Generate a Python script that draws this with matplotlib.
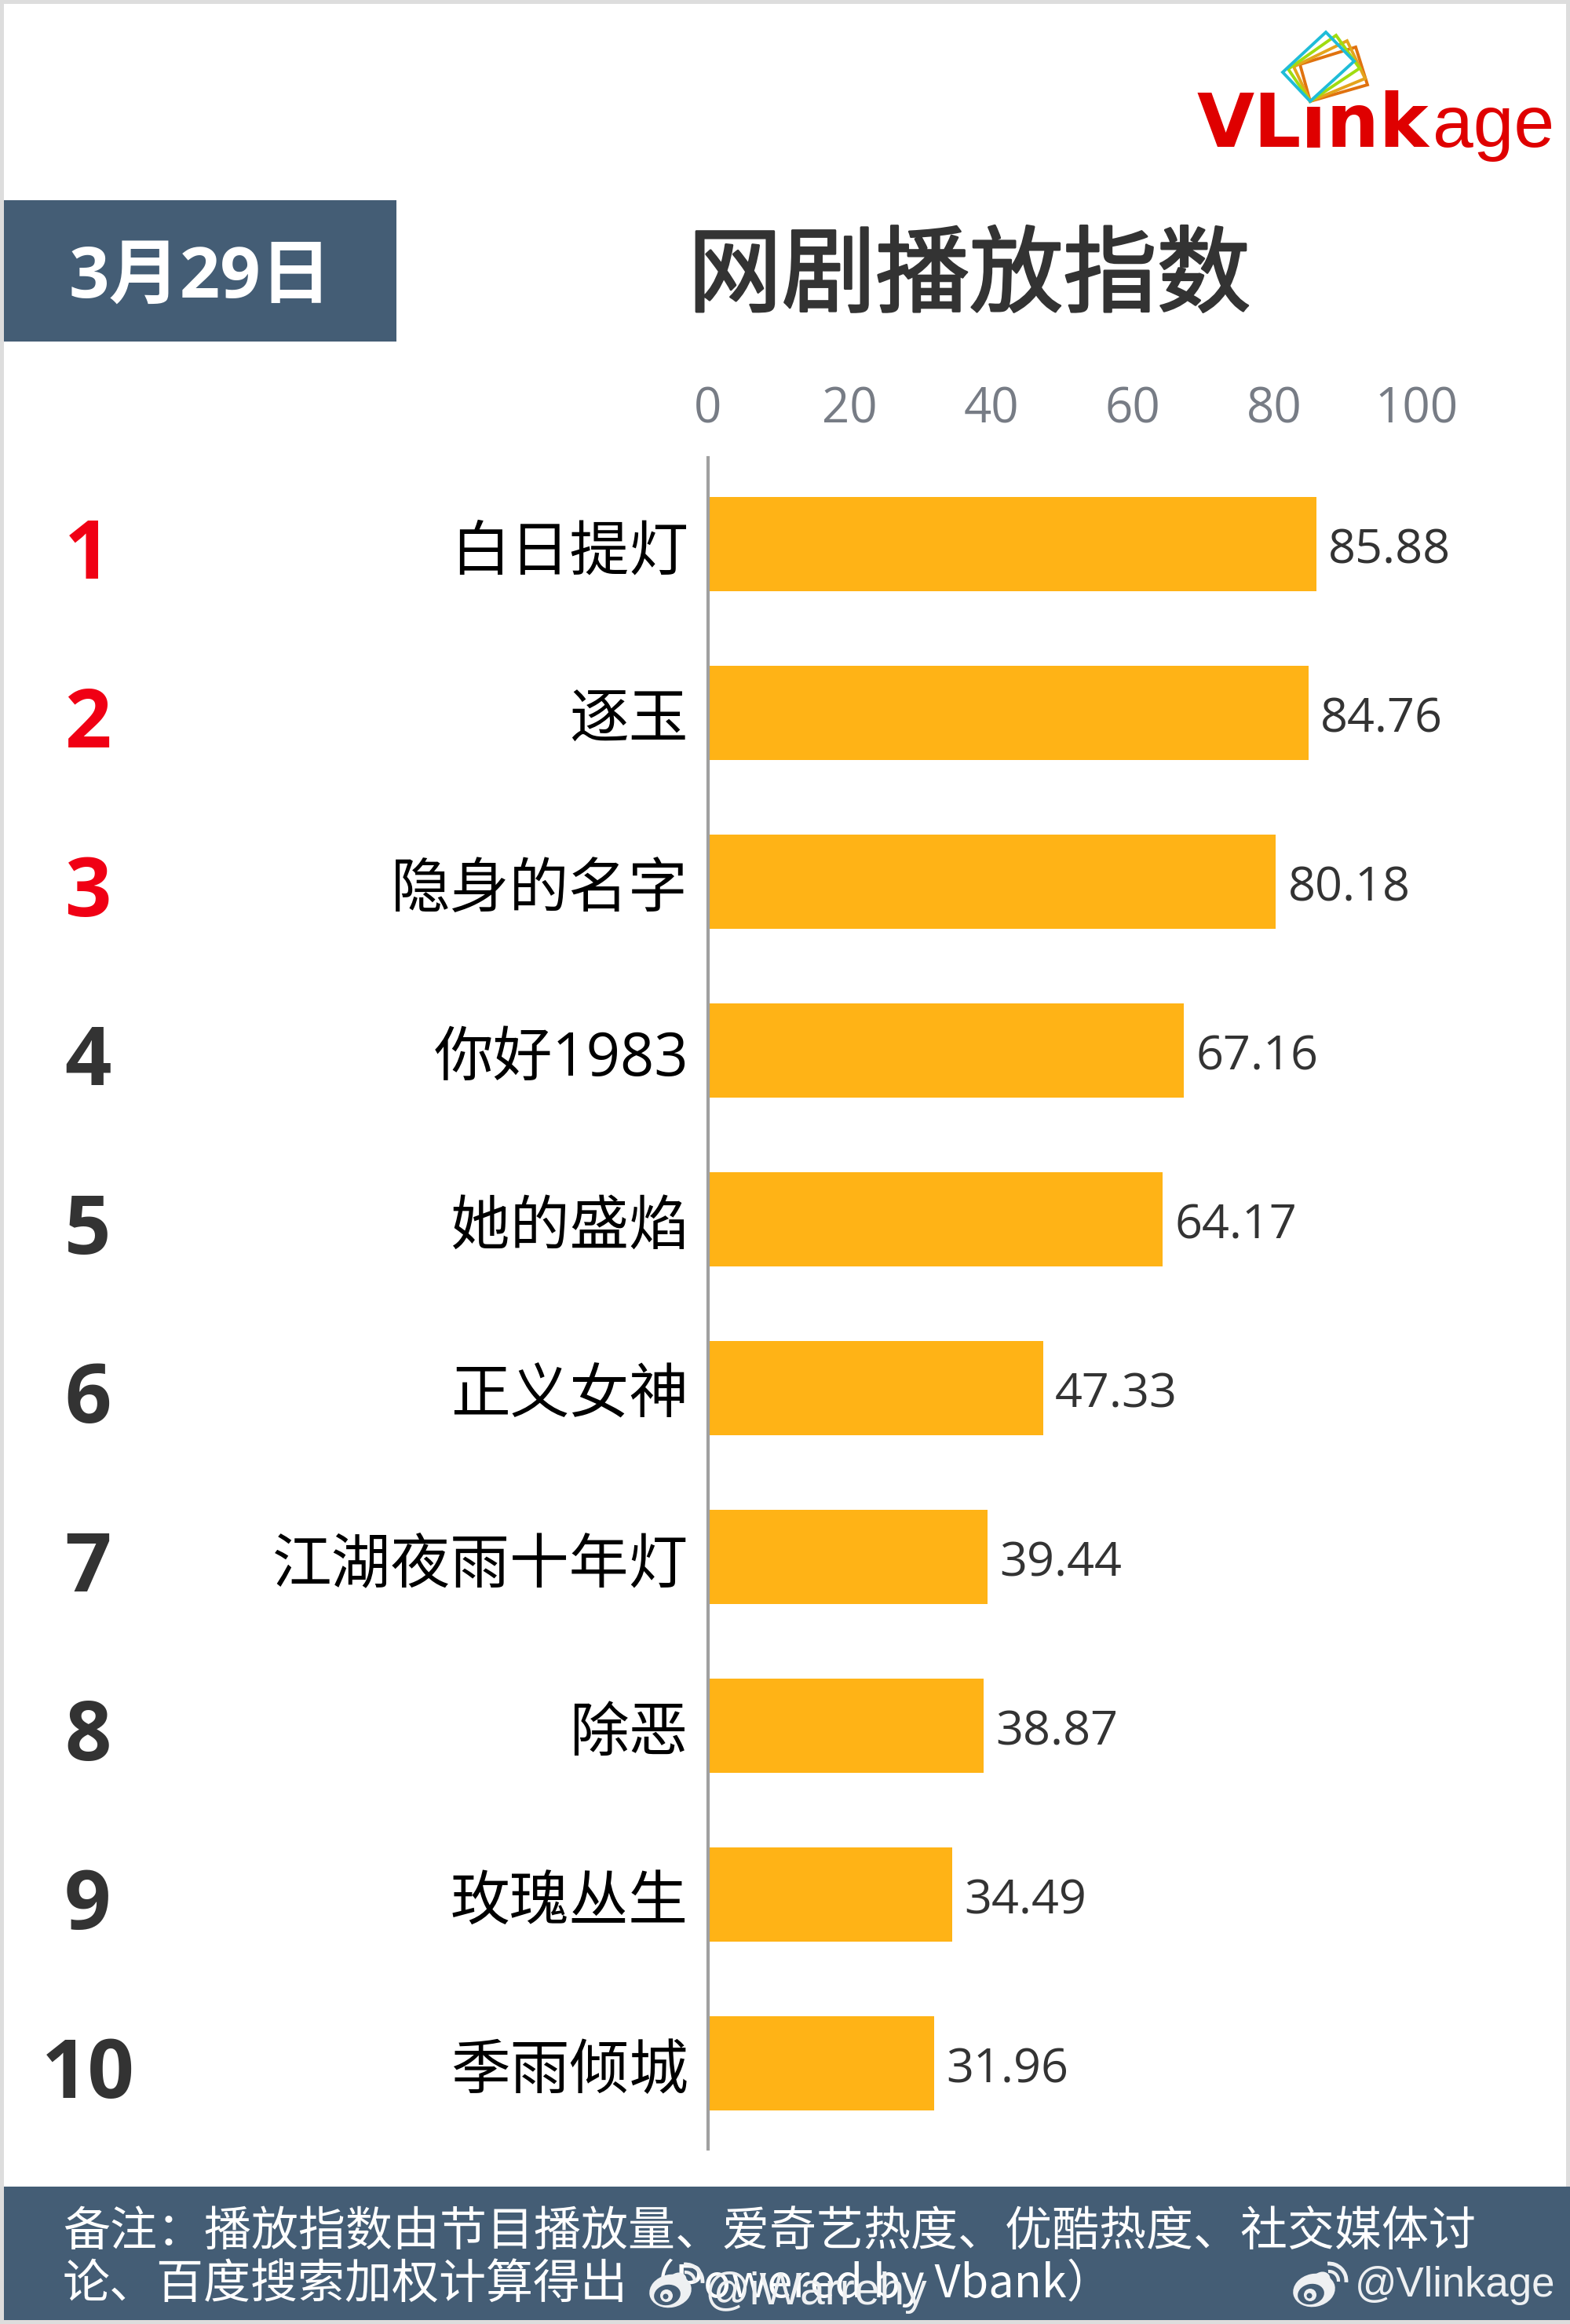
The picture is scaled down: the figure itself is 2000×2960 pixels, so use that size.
import matplotlib
matplotlib.use("Agg")
import matplotlib.pyplot as plt
import matplotlib.patheffects as pe
from matplotlib.patches import Rectangle, Polygon, Ellipse, Circle, Arc
from matplotlib.transforms import ScaledTranslation

# --- data ---
ranks = ["1", "2", "3", "4", "5", "6", "7", "8", "9", "10"]
titles = ["白日提灯", "逐玉", "隐身的名字", "你好1983", "她的盛焰",
          "正义女神", "江湖夜雨十年灯", "除恶", "玫瑰丛生", "季雨倾城"]
values = [85.88, 84.76, 80.18, 67.16, 64.17, 47.33, 39.44, 38.87, 34.49, 31.96]
x_ticks = [0, 20, 40, 60, 80, 100]

date_label = "3月29日"
chart_title = "网剧播放指数"
note_line1 = "备注：播放指数由节目播放量、爱奇艺热度、优酷热度、社交媒体讨"
note_line2 = "论、百度搜索加权计算得出"
note_credit = "（Powered by Vbank）"

FONTS = ["Open Sans", "Noto Sans CJK SC", "DejaVu Sans"]
CJK = ["Noto Sans CJK SC", "DejaVu Sans"]
NAVY = "#445d75"
BAR = "#ffb316"
RED = "#f00014"
DARK = "#333333"
LOGO_RED = "#df0000"
MARK = "#eef0f2"

plt.rcParams["font.family"] = FONTS

W, H = 2000, 2960
fig = plt.figure(figsize=(W / 100, H / 100), dpi=100, facecolor="#dddddd")

# full-figure overlay in pixel coords, for the frame, boxes and logo
bg = fig.add_axes([0, 0, 1, 1], zorder=0)
bg.set_xlim(0, W)
bg.set_ylim(H, 0)
bg.axis("off")
bg.add_patch(Rectangle((5, 5), 1990, 2950, fc="white", ec="none"))
bg.add_patch(Rectangle((5, 255), 500, 180, fc=NAVY, ec="none"))
bg.add_patch(Rectangle((5, 2785), 1995, 170, fc=NAVY, ec="none"))

bg.text(251 + 4, 356, date_label, color="white", fontsize=65, fontweight="bold",
        ha="center", va="center")
bg.text(1235, 354, chart_title, color=DARK, fontsize=86, ha="center", va="center",
        family=CJK, path_effects=[pe.withStroke(linewidth=2, foreground=DARK)])

# footer
bg.text(80, 2843, note_line1, color="white", fontsize=43.2, ha="left", va="center", family=CJK)
bg.text(80, 2910, note_line2, color="white", fontsize=43.2, ha="left", va="center", family=CJK)
bg.text(802, 2908, note_credit, color="white", fontsize=41.5, ha="left", va="center", family=CJK)


def weibo_mark(cx, cy):
    bg.add_patch(Ellipse((cx, cy), 54, 42, angle=-12, fc=MARK, ec="none", zorder=3))
    bg.add_patch(Ellipse((cx + 9, cy - 13), 24, 20, angle=-30, fc=MARK, ec="none", zorder=3))
    bg.add_patch(Ellipse((cx - 4, cy + 5), 34, 26, angle=-12, fc=NAVY, ec="none", zorder=3))
    bg.add_patch(Circle((cx - 5, cy + 6), 8, fc=MARK, ec="none", zorder=3))
    bg.add_patch(Circle((cx - 6, cy + 7), 3.5, fc=NAVY, ec="none", zorder=3))
    bg.add_patch(Arc((cx + 19, cy - 12), 44, 44, theta1=-95, theta2=5, ec=MARK, lw=3.5, zorder=3))
    bg.add_patch(Arc((cx + 19, cy - 12), 24, 24, theta1=-95, theta2=5, ec=MARK, lw=3, zorder=3))


# the two weibo watermarks sit on top of the footer
weibo_mark(854, 2918)
bg.text(898, 2935, "@iWarrehy", color=MARK, fontsize=41, ha="left", va="baseline",
        family=["Liberation Sans"], zorder=4)
weibo_mark(1674, 2917)
bg.text(1726, 2925, "@Vlinkage", color=MARK, fontsize=38, ha="left", va="baseline",
        family=["Liberation Sans"], zorder=4)

# logo: wordmark, the i-dot hidden under the frames, four tilted frames
bg.text(1525, 187, "VLink", color=LOGO_RED, fontsize=68, fontweight="bold", ha="left", va="baseline",
        family=["DejaVu Sans"], zorder=2)
bg.text(1825, 187, "age", color=LOGO_RED, fontsize=67, ha="left", va="baseline",
        family=["Liberation Sans"], zorder=2)
bg.add_patch(Rectangle((1664, 100), 30, 35, fc="white", ec="none", zorder=3))
for pts, col in [
    ([(1656, 82), (1727, 60), (1742, 108), (1669, 129)], "#e0720f"),
    ([(1648, 85), (1716, 52), (1739, 100), (1669, 129)], "#e4a41c"),
    ([(1641, 88), (1702, 45), (1732, 87), (1669, 129)], "#a0dc10"),
    ([(1634, 92), (1689, 41), (1725, 78), (1669, 129)], "#1fbcd8"),
]:
    bg.add_patch(Polygon(pts, closed=True, fc="none", ec=col, lw=2.8, zorder=4))

# the chart itself: x 0-100 spans 902-1804 px, rows are 215 px apart
ax = fig.add_axes([902 / W, 1 - 2737 / H, 902 / W, (2737 - 583) / H], zorder=1)
ax.patch.set_alpha(0)
y_pos = list(range(len(values)))
ax.barh(y_pos, values, height=0.56, color=BAR, zorder=2)
ax.set_xlim(0, 100)
ax.set_ylim(9.507, -0.512)

ax.xaxis.tick_top()
ax.set_xticks(x_ticks)
ax.tick_params(axis="x", length=0, pad=21, labelsize=44.5, labelcolor="#777c85")
ax.set_yticks(y_pos, titles)
ax.tick_params(axis="y", length=0, pad=18, labelsize=54.5, labelcolor="black")
for lab in ax.get_yticklabels():
    lab.set_transform(lab.get_transform() + ScaledTranslation(0, -2 / 72, fig.dpi_scale_trans))
for s in ["top", "right", "bottom"]:
    ax.spines[s].set_visible(False)
ax.spines["left"].set_color("#a0a0a0")
ax.spines["left"].set_linewidth(3)
ax.spines["left"].set_zorder(3)

for i, v in enumerate(values):
    ax.annotate(f"{v:.2f}", (v, i), xytext=(11, -6), textcoords="offset points",
                va="center", ha="left", fontsize=44, color=DARK)
    ax.text(-0.876, i + 0.08, ranks[i], transform=ax.get_yaxis_transform(),
            ha="center", va="center", fontsize=75, fontweight="bold",
            color=RED if i < 3 else DARK)

fig.savefig("out.png", dpi=100, facecolor=fig.get_facecolor())
